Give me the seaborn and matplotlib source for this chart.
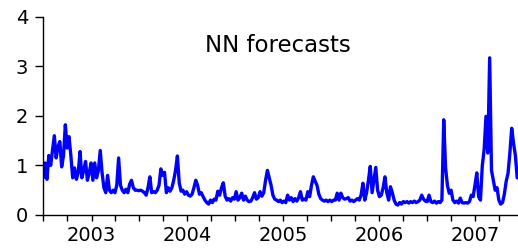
import pandas as pd
import matplotlib.pyplot as plt
import seaborn as sns

# weekly readings of the NN forecast series, starting 2002-07-01
start_date = '2002-07-01'
nn_forecast = [
    0.75, 1.05, 0.72, 1.20, 1.00, 1.30, 1.60, 1.15, 1.38, 1.48,
    0.97, 1.20, 1.82, 1.35, 1.58, 1.20, 0.75, 0.95, 0.72, 0.85,
    1.28, 0.75, 0.90, 1.08, 0.70, 0.85, 1.05, 0.70, 1.05, 0.75,
    0.90, 1.30, 0.85, 0.55, 0.45, 0.80, 0.50, 0.45, 0.50, 0.45,
    0.60, 1.15, 0.60, 0.50, 0.45, 0.52, 0.45, 0.62, 0.70, 0.55,
    0.50, 0.50, 0.49, 0.50, 0.48, 0.45, 0.40, 0.55, 0.77, 0.45,
    0.47, 0.45, 0.50, 0.60, 0.93, 0.80, 0.86, 0.45, 0.55, 0.48,
    0.55, 0.70, 0.90, 1.19, 0.65, 0.48, 0.50, 0.42, 0.47, 0.40,
    0.38, 0.42, 0.55, 0.70, 0.60, 0.42, 0.45, 0.37, 0.30, 0.25,
    0.22, 0.30, 0.25, 0.32, 0.30, 0.48, 0.40, 0.55, 0.65, 0.38,
    0.30, 0.33, 0.28, 0.35, 0.32, 0.47, 0.30, 0.35, 0.44, 0.30,
    0.38, 0.30, 0.27, 0.28, 0.35, 0.45, 0.32, 0.35, 0.47, 0.38,
    0.45, 0.70, 0.90, 0.75, 0.60, 0.40, 0.32, 0.30, 0.27, 0.30,
    0.25, 0.28, 0.25, 0.40, 0.30, 0.35, 0.27, 0.33, 0.28, 0.35,
    0.47, 0.30, 0.32, 0.30, 0.47, 0.37, 0.60, 0.77, 0.68, 0.60,
    0.42, 0.33, 0.30, 0.28, 0.30, 0.27, 0.30, 0.27, 0.30, 0.30,
    0.44, 0.30, 0.44, 0.35, 0.32, 0.33, 0.35, 0.28, 0.30, 0.27,
    0.30, 0.33, 0.30, 0.40, 0.64, 0.30, 0.45, 0.70, 0.98, 0.45,
    0.70, 0.96, 0.50, 0.37, 0.40, 0.55, 0.77, 0.45, 0.30, 0.57,
    0.45, 0.30, 0.22, 0.20, 0.25, 0.22, 0.27, 0.25, 0.27, 0.24,
    0.27, 0.25, 0.28, 0.25, 0.27, 0.30, 0.40, 0.32, 0.28, 0.27,
    0.40, 0.27, 0.25, 0.28, 0.24, 0.27, 0.25, 0.30, 1.92, 0.95,
    0.60, 0.44, 0.50, 0.30, 0.25, 0.28, 0.24, 0.34, 0.25, 0.24,
    0.25, 0.24, 0.27, 0.40, 0.37, 0.60, 0.85, 0.37, 0.30, 1.00,
    1.32, 1.99, 1.25, 3.17, 0.90, 0.70, 0.50, 0.55, 0.30, 0.22,
    0.25, 0.42, 0.68, 0.84, 1.25, 1.75, 1.45, 1.20, 0.75,
]
y_ticks = [0, 1, 2, 3, 4]
title_text = 'NN forecasts'

df = pd.DataFrame({
    'date': pd.date_range(start_date, periods=len(nn_forecast), freq='7D'),
    'value': nn_forecast,
})

sns.set_style('ticks')
plt.rcParams['font.family'] = ['DejaVu Sans']

fig = plt.figure(figsize=(5.18, 2.48), dpi=100)
ax = fig.add_axes([0.0836, 0.1331, 0.9164, 0.7996])

sns.lineplot(data=df, x='date', y='value', color='#0000ff', linewidth=2.4, ax=ax)

# quarterly ticks, year label on each January tick
quarter_ticks = pd.date_range('2002-07-01', '2007-04-01', freq='QS')
ax.set_xticks(quarter_ticks)
ax.set_xticklabels([str(d.year) if d.month == 1 else '' for d in quarter_ticks])
ax.set_xlim(pd.Timestamp('2002-07-01'), pd.Timestamp('2007-06-14'))

ax.set_ylim(0, 4)
ax.set_yticks(y_ticks)
ax.set_yticklabels([str(t) for t in y_ticks])

ax.set_xlabel('')
ax.set_ylabel('')
sns.despine(ax=ax)
for side in ['left', 'bottom']:
    ax.spines[side].set_linewidth(1.0)
    ax.spines[side].set_color('black')
ax.tick_params(axis='y', length=6, width=1.0, pad=5, labelsize=14, colors='black')
ax.tick_params(axis='x', length=4, width=1.0, pad=4, labelsize=14, colors='black')

ax.text(0.494, 0.822, title_text, transform=ax.transAxes, ha='center',
        va='baseline', fontsize=16.5, color='black')

fig.savefig('out.png', dpi=100)
